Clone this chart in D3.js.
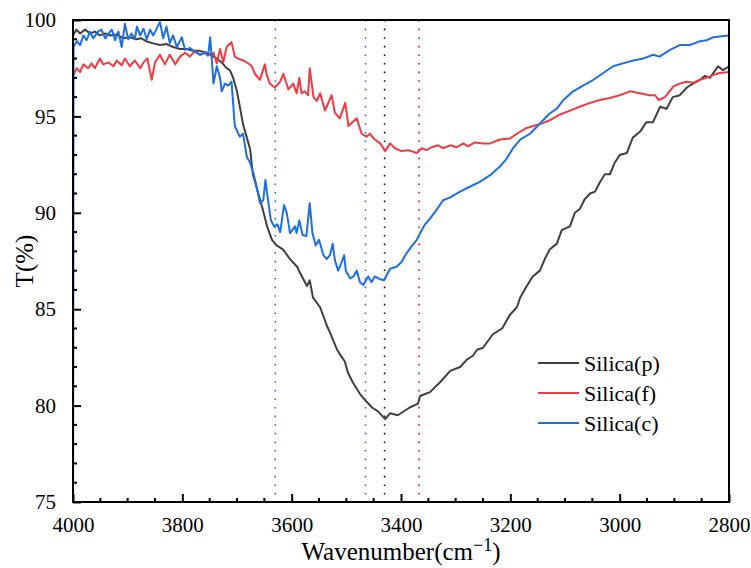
<!DOCTYPE html>
<html>
<head>
<meta charset="utf-8">
<script src="https://cdn.jsdelivr.net/npm/d3@7/dist/d3.min.js"></script>
<style>
  html, body { margin: 0; padding: 0; background: #ffffff; }
  svg { display: block; }
</style>
</head>
<body>
<svg id="chart" width="751" height="568"></svg>
<script>
// FTIR transmittance spectra, O–H stretching region: [wavenumber (cm-1), T (%)]
const silicaP = [
  [4000,99.2],[3994,99.5],[3987,99.3],[3978,99.5],[3969,99.3],[3960,99.4],[3951,99.2],[3941,99.3],
  [3932,99.2],[3920,99.25],[3908,99.05],[3896,99.1],[3884,99.0],[3875,99.05],[3866,98.9],[3855,98.8],
  [3841,98.7],[3829,98.75],[3817,98.6],[3804,98.5],[3792,98.5],[3780,98.4],[3768,98.4],[3755,98.3],
  [3749,98.2],[3737,98.0],[3728,97.8],[3719,97.5],[3713,97.4],[3707,97.0],[3700,96.3],[3689,94.6],
  [3682,93.9],[3676,93.3],[3671,92.0],[3663,91.2],[3654,90.3],[3645,89.3],[3636,88.6],[3627,88.3],
  [3616,88.1],[3603,87.6],[3590,87.2],[3585,86.9],[3572,86.2],[3567,86.5],[3561,85.6],[3548,85.1],
  [3535,84.1],[3530,83.8],[3517,82.9],[3508,82.5],[3503,82.3],[3497,81.7],[3488,81.2],[3475,80.6],
  [3466,80.3],[3453,79.9],[3442,79.7],[3429,79.3],[3420,79.6],[3406,79.5],[3384,79.9],[3369,80.1],
  [3365,80.5],[3347,80.7],[3329,81.2],[3310,81.8],[3292,82.0],[3279,82.4],[3268,82.6],[3261,82.9],
  [3250,83.0],[3232,83.7],[3215,84.0],[3201,84.7],[3188,85.1],[3182,85.6],[3170,86.2],[3159,86.7],
  [3146,87.0],[3137,87.6],[3128,88.1],[3115,88.4],[3106,89.1],[3091,89.3],[3082,90.0],[3073,90.2],
  [3064,90.7],[3054,91.0],[3045,91.1],[3036,91.6],[3027,92.0],[3018,92.0],[3009,92.6],[3000,93.0],
  [2987,93.1],[2976,93.9],[2963,94.2],[2951,94.7],[2939,94.7],[2926,95.5],[2914,95.4],[2903,96.0],
  [2890,96.1],[2877,96.5],[2866,96.7],[2853,96.9],[2844,97.1],[2835,97.0],[2820,97.6],[2811,97.4],
  [2800,97.6]
];

const silicaF = [
  [4000,97.1],[3993,97.5],[3987,97.3],[3981,97.7],[3972,97.5],[3966,97.75],[3960,97.5],[3951,98.0],
  [3945,97.7],[3935,97.8],[3926,97.6],[3920,97.9],[3911,97.65],[3905,98.0],[3896,97.6],[3887,97.9],
  [3877,97.5],[3871,97.8],[3864,98.0],[3856,96.9],[3850,97.8],[3841,98.2],[3832,97.7],[3823,98.2],
  [3813,97.7],[3804,98.1],[3795,98.3],[3786,98.1],[3777,98.4],[3768,98.2],[3759,98.3],[3749,98.2],
  [3743,98.3],[3737,97.75],[3731,98.5],[3725,97.8],[3719,98.6],[3710,98.85],[3704,98.1],[3698,98.0],
  [3689,97.9],[3679,97.75],[3673,97.6],[3667,97.2],[3658,96.9],[3649,97.7],[3646,97.2],[3640,96.7],
  [3631,96.5],[3621,96.8],[3615,97.2],[3606,96.4],[3597,96.7],[3591,96.2],[3586,97.0],[3582,96.2],
  [3576,96.3],[3570,96.1],[3567,97.5],[3560,96.0],[3554,95.8],[3548,96.2],[3539,95.3],[3527,96.1],
  [3521,95.2],[3512,94.9],[3502,95.7],[3496,94.5],[3481,94.9],[3472,94.1],[3463,93.95],[3457,94.1],
  [3448,93.8],[3438,93.6],[3429,93.2],[3420,93.6],[3411,93.35],[3399,93.2],[3387,93.25],[3371,93.1],
  [3362,93.35],[3353,93.25],[3344,93.4],[3332,93.5],[3323,93.35],[3310,93.5],[3298,93.4],[3286,93.6],
  [3277,93.45],[3265,93.65],[3250,93.6],[3237,93.6],[3219,93.8],[3201,93.85],[3188,94.1],[3170,94.4],
  [3158,94.5],[3140,94.65],[3128,94.8],[3109,95.1],[3091,95.3],[3073,95.5],[3054,95.7],[3036,95.85],
  [3018,95.95],[3000,96.1],[2981,96.3],[2963,96.2],[2945,96.1],[2935,96.1],[2929,95.85],[2917,96.0],
  [2902,96.55],[2890,96.7],[2878,96.8],[2865,96.75],[2853,96.9],[2841,97.0],[2829,97.15],[2817,97.25],
  [2800,97.3]
];

const silicaC = [
  [4000,70.0],[3999,98.6],[3993,98.9],[3987,98.7],[3981,99.2],[3975,98.95],[3969,99.4],[3963,99.05],
  [3954,99.4],[3948,99.5],[3941,99.05],[3935,99.3],[3929,99.5],[3923,98.95],[3917,99.4],[3911,98.6],
  [3905,99.8],[3899,99.0],[3893,99.3],[3887,99.0],[3883,99.65],[3877,99.2],[3871,99.55],[3865,99.0],
  [3859,99.5],[3853,99.2],[3847,99.55],[3841,99.9],[3835,99.05],[3829,99.65],[3823,98.8],[3817,99.2],
  [3810,98.6],[3801,99.1],[3795,98.45],[3786,98.55],[3777,98.35],[3768,98.2],[3759,98.3],[3753,98.15],
  [3749,99.1],[3743,96.7],[3737,97.6],[3731,97.0],[3728,96.3],[3722,96.7],[3716,96.6],[3710,96.8],
  [3704,94.5],[3695,93.95],[3689,94.1],[3682,92.9],[3676,92.6],[3670,92.05],[3664,91.35],[3658,90.5],
  [3652,90.65],[3648,91.7],[3643,90.6],[3638,89.6],[3632,89.3],[3626,89.4],[3621,89.0],[3614,90.4],
  [3609,90.0],[3603,88.95],[3594,89.3],[3591,88.95],[3586,89.6],[3580,88.85],[3573,88.8],[3567,90.5],
  [3562,88.95],[3556,88.3],[3550,88.6],[3542,87.8],[3536,87.6],[3530,87.8],[3525,88.4],[3521,87.55],
  [3515,87.0],[3509,87.4],[3504,87.8],[3501,87.0],[3493,86.6],[3487,86.7],[3481,87.0],[3475,86.4],
  [3469,86.25],[3460,86.7],[3454,86.4],[3448,86.7],[3438,86.55],[3431,86.5],[3420,87.1],[3408,87.2],
  [3399,87.45],[3390,87.9],[3381,88.25],[3371,88.6],[3365,88.95],[3356,89.4],[3347,89.7],[3335,90.15],
  [3323,90.65],[3310,90.8],[3292,91.1],[3274,91.35],[3256,91.6],[3237,91.95],[3219,92.4],[3207,92.8],
  [3195,93.35],[3182,93.8],[3164,94.1],[3152,94.45],[3140,94.8],[3128,95.15],[3115,95.4],[3103,95.85],
  [3085,96.3],[3067,96.6],[3048,96.9],[3030,97.25],[3012,97.6],[2994,97.75],[2975,97.9],[2957,98.0],
  [2939,98.2],[2927,98.1],[2908,98.45],[2890,98.7],[2872,98.7],[2853,98.9],[2841,98.95],[2829,99.1],
  [2817,99.15],[2800,99.2]
];

const seriesNames = ["Silica(p)", "Silica(f)", "Silica(c)"];
const seriesColors = ["#404040", "#ef3b42", "#1e6fe0"];

// Band positions marked with dotted guides (cm-1)
const markerWaves = [3630, 3465, 3430, 3367];
const markerColors = ["#2b6fd8", "#2b6fd8", "#111111", "#ef3b42"];

const xMajorTicks = [4000, 3800, 3600, 3400, 3200, 3000, 2800];
const yMajorTicks = [75, 80, 85, 90, 95, 100];

const svg = d3.select("#chart");
const margin = { left: 73, right: 22, top: 20, bottom: 66 };
const W = 751, H = 568;
const x0 = margin.left, x1 = W - margin.right;
const y0 = H - margin.bottom, y1 = margin.top;

const x = d3.scaleLinear().domain([4000, 2800]).range([x0, x1]);
const y = d3.scaleLinear().domain([75, 100]).range([y0, y1]);

const serif = '"Liberation Serif"';

svg.append("defs").append("clipPath").attr("id", "plotClip")
  .append("rect").attr("x", x0 - 1.5).attr("y", y1).attr("width", x1 - x0 + 3).attr("height", y0 - y1);

// dotted guides
svg.append("g").selectAll("line").data(markerWaves).join("line")
  .attr("x1", d => x(d)).attr("x2", d => x(d))
  .attr("y1", y1).attr("y2", y0)
  .attr("stroke", (d, i) => markerColors[i])
  .attr("stroke-width", (d, i) => i === 3 ? 2 : 1.6)
  .attr("stroke-dasharray", "1.6,7");

// spectra
const line = d3.line().x(d => x(d[0])).y(d => y(d[1]));
const plot = svg.append("g").attr("clip-path", "url(#plotClip)");
[silicaP, silicaF, silicaC].forEach((s, i) => {
  plot.append("path").datum(s)
    .attr("d", line)
    .attr("fill", "none")
    .attr("stroke", seriesColors[i])
    .attr("stroke-width", 2)
    .attr("stroke-linejoin", "round");
});

// frame
svg.append("rect").attr("x", x0).attr("y", y1).attr("width", x1 - x0).attr("height", y0 - y1)
  .attr("fill", "none").attr("stroke", "#000").attr("stroke-width", 2);

// bottom axis with inward ticks
const xAxis = d3.axisBottom(x).tickValues(xMajorTicks).tickSizeInner(-8).tickSizeOuter(0).tickPadding(15)
  .tickFormat(d3.format("d"));
const gx = svg.append("g").attr("transform", `translate(0,${y0})`).call(xAxis);
gx.select(".domain").remove();
gx.attr("font-family", null).attr("font-size", null);
gx.selectAll(".tick line").attr("stroke", "#000").attr("stroke-width", 2);
gx.selectAll("text").style("font-family", serif).style("font-size", "21px").attr("fill", "#000");
const xMinor = d3.range(4000, 2799, -50).filter(v => !xMajorTicks.includes(v));
svg.append("g").selectAll("line").data(xMinor).join("line")
  .attr("x1", d => x(d)).attr("x2", d => x(d)).attr("y1", y0).attr("y2", y0 - 4)
  .attr("stroke", "#000").attr("stroke-width", 2);

// left axis with inward ticks
const yAxis = d3.axisLeft(y).tickValues(yMajorTicks).tickSizeInner(-8).tickSizeOuter(0).tickPadding(17);
const gy = svg.append("g").attr("transform", `translate(${x0},0)`).call(yAxis);
gy.select(".domain").remove();
gy.attr("font-family", null).attr("font-size", null);
gy.selectAll(".tick line").attr("stroke", "#000").attr("stroke-width", 2);
gy.selectAll("text").style("font-family", serif).style("font-size", "21px").attr("fill", "#000");
const yMinor = d3.range(76, 100, 1).filter(v => !yMajorTicks.includes(v));
svg.append("g").selectAll("line").data(yMinor).join("line")
  .attr("x1", x0).attr("x2", x0 + 4).attr("y1", d => y(d)).attr("y2", d => y(d))
  .attr("stroke", "#000").attr("stroke-width", 2);

// axis titles
const xt = svg.append("text").attr("x", (x0 + x1) / 2).attr("y", 560)
  .attr("text-anchor", "middle").style("font-family", serif).style("font-size", "25px").attr("fill", "#000");
xt.append("tspan").text("Wavenumber(cm");
xt.append("tspan").text("\u22121").style("font-size", "18px").attr("dy", -9);
xt.append("tspan").text(")").attr("dy", 9);

svg.append("text").attr("transform", `translate(33,${(y0 + y1) / 2}) rotate(-90)`)
  .attr("text-anchor", "middle").style("font-family", serif).style("font-size", "25px").attr("fill", "#000")
  .text("T(%)");

// legend
const lg = svg.append("g").attr("transform", "translate(538,363)");
seriesNames.forEach((name, i) => {
  const row = lg.append("g").attr("transform", `translate(0,${i * 30})`);
  row.append("line").attr("x1", 0).attr("x2", 41).attr("y1", 0).attr("y2", 0)
    .attr("stroke", seriesColors[i]).attr("stroke-width", 2);
  row.append("text").attr("x", 46).attr("y", 0).attr("dy", "0.35em")
    .style("font-family", serif).style("font-size", "22px").attr("fill", "#000").text(name);
});
</script>
</body>
</html>
